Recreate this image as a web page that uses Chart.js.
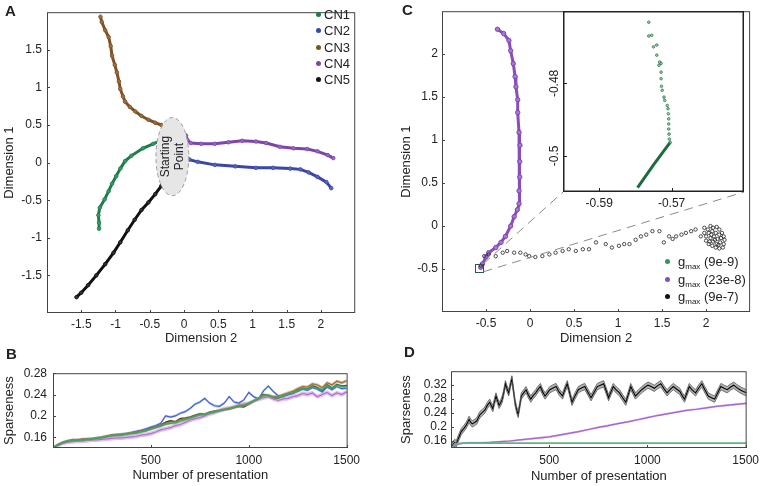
<!DOCTYPE html>
<html>
<head>
<meta charset="utf-8">
<title>Trajectories and sparseness</title>
<script src="https://cdn.jsdelivr.net/npm/chart.js@4.4.1/dist/chart.umd.min.js"></script>
<style>
  html, body { margin: 0; padding: 0; background: #fff; }
  #fig { position: relative; width: 767px; height: 486px; overflow: hidden;
         font-family: 'Liberation Sans', Arial, Helvetica, sans-serif; color: #222; }
  #fig canvas { position: absolute; }
  .panel { position: absolute; font-weight: bold; font-size: 15px; }
  .leg { position: absolute; font-size: 13px; line-height: 16.3px; white-space: nowrap; }
  .leg .dot { display: inline-block; width: 5px; height: 5px; border-radius: 50%;
              margin-right: 3px; vertical-align: middle; position: relative; top: -1px; }
  .leg.g { line-height: 17.5px; }
  .leg.g .dot { margin-right: 8px; }
  .leg sub { font-size: 8px; vertical-align: -3px; line-height: 0; }
</style>
</head>
<body>
<div id="fig">
  <canvas id="cA" width="360" height="350" style="left:0;top:0"></canvas>
  <canvas id="cB" width="365" height="126" style="left:0;top:360px"></canvas>
  <canvas id="cC" width="360" height="350" style="left:395px;top:0"></canvas>
  <canvas id="cCi" width="215" height="210" style="left:535px;top:5px"></canvas>
  <canvas id="cD" width="369" height="126" style="left:395px;top:360px"></canvas>

  <div class="panel" style="left:5px;top:2px">A</div>
  <div class="panel" style="left:6px;top:345px">B</div>
  <div class="panel" style="left:402px;top:1px">C</div>
  <div class="panel" style="left:404px;top:343px">D</div>

  <div class="leg" style="left:316px;top:7px">
    <div><span class="dot" style="background:#1f7d4a"></span>CN1</div>
    <div><span class="dot" style="background:#3a47a5"></span>CN2</div>
    <div><span class="dot" style="background:#7d5226"></span>CN3</div>
    <div><span class="dot" style="background:#7e44a8"></span>CN4</div>
    <div><span class="dot" style="background:#111"></span>CN5</div>
  </div>
  <div class="leg g" style="left:665px;top:253px">
    <div><span class="dot" style="background:#2e9a5a"></span>g<sub>max</sub> (9e-9)</div>
    <div><span class="dot" style="background:#8a4dbd"></span>g<sub>max</sub> (23e-8)</div>
    <div><span class="dot" style="background:#111"></span>g<sub>max</sub> (9e-7)</div>
  </div>
</div>

<script>
'use strict';

/* ---------- data: panel A (trajectories, [dim2, dim1]) ---------- */
const cn1 = [[-0.30,0.31],[-0.45,0.25],[-0.60,0.19],[-0.77,0.09],[-0.86,0.02],[-0.93,-0.08],
             [-0.99,-0.18],[-1.05,-0.28],[-1.10,-0.38],[-1.16,-0.49],[-1.23,-0.60],[-1.25,-0.70],
             [-1.24,-0.80],[-1.24,-0.88]];
const cn2 = [[0.03,0.09],[0.08,0.04],[0.20,0.01],[0.45,-0.03],[0.75,-0.05],[1.05,-0.07],[1.30,-0.07],
             [1.55,-0.08],[1.70,-0.09],[1.82,-0.13],[1.95,-0.19],[2.08,-0.26],[2.15,-0.34]];
const cn3 = [[-1.22,1.94],[-1.20,1.87],[-1.15,1.76],[-1.10,1.67],[-1.07,1.55],[-1.05,1.42],[-1.01,1.30],
             [-0.98,1.20],[-0.95,1.08],[-0.93,0.98],[-0.89,0.88],[-0.86,0.81],[-0.79,0.74],[-0.71,0.68],
             [-0.62,0.62],[-0.52,0.57],[-0.42,0.53],[-0.33,0.50]];
const cn4 = [[0.03,0.36],[0.05,0.30],[0.10,0.26],[0.25,0.25],[0.45,0.25],[0.65,0.27],[0.85,0.29],
             [1.05,0.28],[1.20,0.26],[1.40,0.21],[1.60,0.19],[1.80,0.18],[1.95,0.15],[2.10,0.10],[2.18,0.06]];
const cn5 = [[-0.33,-0.31],[-0.42,-0.42],[-0.52,-0.53],[-0.62,-0.63],[-0.72,-0.76],[-0.82,-0.90],
             [-0.93,-1.06],[-1.03,-1.20],[-1.15,-1.35],[-1.28,-1.50],[-1.40,-1.63],[-1.50,-1.73],[-1.57,-1.79]];
const startCenter = [-0.17, 0.08];
const startRadius = [0.24, 0.52];
const dimATicksX = [-1.5, -1, -0.5, 0, 0.5, 1, 1.5, 2];
const dimATicksY = [-1.5, -1, -0.5, 0, 0.5, 1, 1.5];

/* ---------- data: panel B (sparseness, five CNs) ---------- */
const presB = [0,25,50,75,100,125,150,175,200,225,250,275,300,325,350,375,400,425,450,475,500,
               525,550,575,600,625,650,675,700,725,750,775,800,825,850,875,900,925,950,975,1000,
               1025,1050,1075,1100,1125,1150,1175,1200,1225,1250,1275,1300,1325,1350,1375,1400,
               1425,1450,1475,1500];
const bGreen  = [.140,.146,.150,.153,.154,.155,.155,.156,.157,.158,.160,.161,.163,.164,.164,.166,.167,.168,.170,.172,.175,
                 .178,.181,.184,.186,.187,.190,.193,.196,.199,.202,.203,.206,.208,.210,.212,.214,.216,.219,.220,.224,
                 .228,.233,.238,.239,.235,.234,.237,.241,.243,.247,.251,.250,.255,.252,.249,.257,.252,.258,.255,.256];
const bBlue   = [.140,.146,.150,.153,.155,.155,.156,.157,.157,.159,.160,.162,.164,.165,.166,.167,.169,.171,.173,.176,.179,
                 .182,.186,.200,.198,.200,.205,.208,.214,.222,.226,.233,.224,.219,.218,.224,.236,.226,.224,.230,.244,
                 .236,.232,.247,.256,.246,.238,.236,.240,.242,.246,.250,.248,.253,.250,.245,.254,.249,.255,.251,.252];
const bBrown  = [.140,.146,.150,.153,.155,.155,.156,.156,.157,.158,.160,.162,.163,.164,.165,.166,.168,.169,.171,.173,.176,
                 .179,.182,.186,.189,.189,.193,.195,.197,.200,.203,.203,.206,.208,.210,.212,.214,.216,.219,.219,.223,
                 .228,.233,.239,.238,.236,.236,.240,.243,.246,.251,.255,.254,.260,.258,.253,.262,.258,.265,.262,.266];
const bPurple = [.140,.145,.149,.151,.152,.153,.153,.154,.155,.155,.156,.157,.158,.159,.159,.160,.161,.162,.164,.165,.167,
                 .170,.174,.176,.178,.182,.184,.188,.192,.195,.197,.200,.204,.206,.210,.213,.214,.217,.220,.222,.223,
                 .228,.231,.234,.236,.232,.229,.232,.233,.236,.238,.242,.240,.243,.236,.240,.244,.238,.243,.240,.245];
const bBlack  = [.140,.146,.150,.153,.155,.155,.156,.156,.157,.159,.160,.162,.164,.165,.165,.167,.168,.170,.172,.174,.177,
                 .180,.183,.188,.191,.189,.195,.196,.198,.201,.204,.203,.207,.209,.210,.212,.213,.216,.218,.217,.222,
                 .227,.232,.240,.238,.234,.233,.238,.240,.243,.248,.252,.250,.256,.253,.248,.258,.252,.259,.256,.257];
const bBands  = { green: 0.0025, blue: 0.0025, brown: 0.003, purple: 0.004, black: 0.002 };
const sparseTicksB = [0.16, 0.2, 0.24, 0.28];
const presTicks = [500, 1000, 1500];

/* ---------- data: panel C (three gmax values) ---------- */
const cPurple = [[-0.37,2.29],[-0.30,2.24],[-0.24,2.16],[-0.22,2.04],[-0.19,1.89],[-0.17,1.74],[-0.16,1.62],
                 [-0.14,1.47],[-0.14,1.32],[-0.125,1.09],[-0.114,0.94],[-0.117,0.75],[-0.117,0.57],[-0.125,0.41],
                 [-0.125,0.26],[-0.144,0.19],[-0.18,0.11],[-0.22,0.00],[-0.28,-0.12],[-0.33,-0.19],[-0.39,-0.25],
                 [-0.47,-0.31],[-0.50,-0.36],[-0.54,-0.44],[-0.56,-0.48]];
const cBlack = [[-0.56,-0.46],[-0.52,-0.35],[-0.47,-0.33],[-0.39,-0.35],[-0.31,-0.31],[-0.26,-0.29],[-0.18,-0.31],
                [-0.11,-0.31],[-0.05,-0.33],[-0.01,-0.35],[0.06,-0.36],[0.14,-0.35],[0.22,-0.33],[0.29,-0.31],
                [0.37,-0.29],[0.44,-0.27],[0.52,-0.29],[0.60,-0.27],[0.67,-0.27],[0.75,-0.19],[0.86,-0.21],
                [0.93,-0.25],[1.01,-0.23],[1.07,-0.21],[1.13,-0.21],[1.20,-0.16],[1.26,-0.12],[1.32,-0.10],
                [1.39,-0.06],[1.47,-0.06],[1.52,-0.19],[1.58,-0.12],[1.62,-0.15],[1.66,-0.12],[1.72,-0.10],
                [1.77,-0.08],[1.83,-0.06],[1.88,-0.04],[1.94,-0.12],[1.98,-0.02],[2.02,-0.04],[2.05,0.00],
                [2.08,-0.02],[2.12,-0.01],[2.15,-0.04],[2.18,-0.08],[2.20,-0.12],[2.21,-0.16],[2.20,-0.21],
                [2.19,-0.25],[2.15,-0.26],[2.11,-0.25],[2.07,-0.23],[2.03,-0.21],[2.00,-0.17],[2.00,-0.12],
                [2.03,-0.08],[2.07,-0.06],[2.11,-0.08],[2.15,-0.10],[2.17,-0.14],[2.16,-0.19],[2.12,-0.21],
                [2.08,-0.18],[2.05,-0.14],[2.09,-0.12],[2.13,-0.15],[2.06,-0.10],[2.10,-0.16],[2.14,-0.22],
                [2.04,-0.18],[1.98,-0.08]];
const dimCTicks = [-0.5, 0, 0.5, 1, 1.5, 2];

/* inset (green, gmax 9e-9) */
const insetX = [-0.60, -0.55];
const insetY = [-0.51, -0.46];
const insetTicksX = [-0.59, -0.57];
const insetTicksY = [-0.5, -0.48];
const inDots = [[-0.5763,-0.4631],[-0.5763,-0.4669],[-0.5755,-0.4667],[-0.5750,-0.4699],[-0.5741,-0.4694],
                [-0.5741,-0.4722],[-0.5733,-0.4741],[-0.5729,-0.4745],[-0.5735,-0.4750],[-0.5729,-0.4769],
                [-0.5729,-0.4787],[-0.5728,-0.4808],[-0.5726,-0.4819],[-0.5721,-0.4838],[-0.5719,-0.4847],
                [-0.5712,-0.4861],[-0.5710,-0.4870],[-0.5709,-0.4884],[-0.5708,-0.4898],[-0.5708,-0.4912],
                [-0.5708,-0.4926],[-0.5707,-0.4940],[-0.5706,-0.4954],[-0.5704,-0.4963]];
const inTail = [[-0.5704,-0.4963],[-0.5750,-0.5025],[-0.5794,-0.5088]];

/* ---------- data: panel D (sparseness, three gmax values) ---------- */
const dBlackX = [0,10,19,27,35,44,52,64,76,84,92,100,108,120,132,140,148,160,173,185,197,205,213,221,229,237,245,
                 253,261,269,277,285,294,302,310,318,326,334,342,350,358,370,382,394,406,418,431,443,455,467,479,
                 491,503,519,535,551,568,580,592,604,616,632,648,664,681,697,713,729,745,761,777,790,802,814,826,
                 842,858,874,890,903,915,927,939,955,971,987,1003,1019,1035,1051,1068,1084,1100,1116,1132,1148,
                 1165,1177,1189,1201,1213,1229,1245,1261,1277,1293,1310,1326,1342,1358,1374,1390,1406,1422,1439,
                 1455,1471,1488,1505];
const dBlackY = [.138,.150,.156,.152,.164,.176,.187,.195,.204,.212,.222,.214,.209,.213,.218,.228,.236,.242,.249,.262,
                 .271,.262,.253,.272,.289,.275,.262,.270,.280,.300,.324,.310,.298,.320,.338,.305,.271,.250,.236,.262,
                 .289,.298,.307,.292,.280,.290,.298,.308,.316,.300,.289,.298,.307,.312,.316,.300,.289,.308,.324,.298,
                 .271,.290,.307,.312,.316,.300,.284,.300,.316,.320,.324,.304,.284,.300,.316,.306,.298,.284,.271,.294,
                 .316,.302,.289,.298,.307,.314,.320,.316,.311,.318,.324,.310,.298,.308,.316,.309,.302,.290,.280,.298,
                 .316,.306,.298,.312,.324,.306,.289,.284,.280,.298,.316,.311,.307,.314,.320,.313,.307,.302,.298];
const dPurpleX = [0,30,60,100,150,200,250,300,350,400,450,500,550,600,650,700,750,800,850,900,950,1000,
                  1050,1100,1150,1200,1250,1300,1350,1400,1450,1505];
const dPurpleY = [.138,.150,.154,.155,.155,.156,.158,.160,.163,.166,.169,.172,.177,.182,.187,.193,.199,.204,
                  .210,.215,.221,.227,.233,.238,.243,.248,.251,.255,.259,.262,.265,.268];
const dGreenX = [0, 20, 60, 1505];
const dGreenY = [.138, .152, .154, .154];
const dBands = { black: 0.009, purple: 0.003 };
const sparseTicksD = [0.16, 0.2, 0.24, 0.28, 0.32];

/* ---------- helpers ---------- */
const FONT = "'Liberation Sans', Arial, Helvetica, sans-serif";
Chart.defaults.font.family = FONT;
Chart.defaults.color = '#222';

const xy = arr => arr.map(([x, y]) => ({ x, y }));
const pts = (xs, ys, d = 0) => xs.map((x, i) => ({ x, y: ys[i] + d }));

function axis(min, max, ticks, title, o) {
  return {
    type: 'linear', min, max,
    afterBuildTicks: s => { s.ticks = ticks.map(v => ({ value: v })); },
    afterFit: s => { if (s.isHorizontal()) s.height = o.size; else s.width = o.size; },
    grid: { display: false, drawTicks: false },
    border: { display: false },
    ticks: { display: o.labels !== false, padding: o.pad, color: '#222', font: { size: 12 },
             maxRotation: 0, autoSkip: false, callback: v => String(v) },
    title: { display: !!title, text: title, color: '#222', font: { size: 13 }, padding: o.tpad || 0 },
  };
}

// box round the plot area + short inward ticks (matlab look)
const frame = {
  id: 'frame',
  afterDatasetsDraw(chart, args, o) {
    const { ctx, chartArea: a, scales } = chart;
    ctx.save();
    ctx.strokeStyle = o.color || '#444';
    ctx.lineWidth = o.width || 1;
    const h = (o.width || 1) / 2;
    ctx.strokeRect(a.left + h, a.top + h, a.right - a.left - 2 * h, a.bottom - a.top - 2 * h);
    ctx.lineWidth = 1;
    ctx.beginPath();
    scales.x.ticks.forEach(t => {
      const p = Math.round(scales.x.getPixelForValue(t.value)) + 0.5;
      ctx.moveTo(p, a.bottom); ctx.lineTo(p, a.bottom - (o.tick || 3));
    });
    scales.y.ticks.forEach(t => {
      const p = Math.round(scales.y.getPixelForValue(t.value)) + 0.5;
      ctx.moveTo(a.left, p); ctx.lineTo(a.left + (o.tick || 3), p);
    });
    ctx.stroke();
    ctx.restore();
  }
};

function baseOptions(pad, x, y, extra) {
  return {
    responsive: false, animation: false, events: [],
    layout: { padding: pad },
    plugins: Object.assign({ legend: { display: false }, tooltip: { enabled: false }, frame: {} }, extra || {}),
    scales: { x, y },
  };
}

function bandSets(xs, ys, w, line, band, edge, lw) {
  return [
    { data: pts(xs, ys, w), borderColor: edge || 'transparent', borderWidth: edge ? 0.8 : 0, pointRadius: 0, fill: false },
    { data: pts(xs, ys, -w), borderColor: edge || 'transparent', borderWidth: edge ? 0.8 : 0, pointRadius: 0,
      fill: '-1', backgroundColor: band },
    { data: pts(xs, ys), borderColor: line, borderWidth: lw || 1.2, pointRadius: 0, fill: false },
  ];
}

/* ---------- panel A ---------- */
const startEllipse = {
  id: 'startEllipse',
  afterDatasetsDraw(chart) {
    const { ctx, scales: { x, y } } = chart;
    const cx = x.getPixelForValue(startCenter[0]);
    const cy = y.getPixelForValue(startCenter[1]);
    const rx = Math.abs(x.getPixelForValue(startCenter[0] + startRadius[0]) - cx);
    const ry = Math.abs(y.getPixelForValue(startCenter[1] + startRadius[1]) - cy);
    ctx.save();
    ctx.beginPath();
    ctx.ellipse(cx, cy, rx, ry, 0, 0, Math.PI * 2);
    ctx.fillStyle = '#e6e6e6';
    ctx.fill();
    ctx.setLineDash([4, 3]);
    ctx.strokeStyle = '#9a9a9a';
    ctx.lineWidth = 1;
    ctx.stroke();
    ctx.setLineDash([]);
    ctx.translate(cx, cy);
    ctx.rotate(-Math.PI / 2);
    ctx.fillStyle = '#222';
    ctx.font = '12px ' + FONT;
    ctx.textAlign = 'center';
    ctx.textBaseline = 'middle';
    ctx.fillText('Starting', 0, -6.5);
    ctx.fillText('Point', 0, 7);
    ctx.restore();
  }
};

const traj = (data, color, fillc) => ({
  data: xy(data), showLine: true, borderColor: color, borderWidth: 3, tension: 0,
  pointRadius: 1.8, pointBorderWidth: 0.8, pointBorderColor: color, pointBackgroundColor: fillc,
});

new Chart(document.getElementById('cA'), {
  type: 'scatter',
  data: { datasets: [
    traj(cn3, '#7d5226', '#a07040'), traj(cn1, '#1f7d4a', '#3d9a66'), traj(cn2, '#3a47a5', '#5a66c0'),
    traj(cn4, '#7e44a8', '#9b66c4'), traj(cn5, '#111', '#333'),
  ] },
  options: baseOptions({ top: 4, right: 3, left: 0, bottom: 0 },
    axis(-2, 2.5, dimATicksX, 'Dimension 2', { size: 37, pad: 4, tpad: { top: 0, bottom: 4 } }),
    axis(-2, 2, dimATicksY, 'Dimension 1', { size: 47, pad: 5, tpad: { top: 2, bottom: 0 } })),
  plugins: [frame, startEllipse],
});

/* ---------- panel B ---------- */
new Chart(document.getElementById('cB'), {
  type: 'line',
  data: { datasets: [
    ...bandSets(presB, bGreen, bBands.green, '#2f9a55', 'rgba(80,180,110,0.45)'),
    ...bandSets(presB, bBrown, bBands.brown, '#8a5a2b', 'rgba(180,130,70,0.5)'),
    ...bandSets(presB, bBlue, bBands.blue, '#3355c0', 'rgba(90,120,220,0.4)'),
    ...bandSets(presB, bPurple, bBands.purple, '#9a4fc0', 'rgba(195,140,225,0.55)'),
    ...bandSets(presB, bBlack, bBands.black, '#000', 'rgba(0,0,0,0.2)', null, 1.3),
  ] },
  options: baseOptions({ top: 8, right: 3, left: 0, bottom: 0 },
    axis(0, 1505, presTicks, 'Number of presentation', { size: 38, pad: 5, tpad: { top: 0, bottom: 3 } }),
    axis(0.14, 0.28, sparseTicksB, 'Sparseness', { size: 53, pad: 6, tpad: { top: 2, bottom: 0 } })),
  plugins: [frame],
});

/* ---------- panel C inset (drawn first so the zoom lines can find it) ---------- */
const rotYLabels = {
  id: 'rotYLabels',
  afterDraw(chart) {
    const { ctx, chartArea: a, scales: { y } } = chart;
    ctx.save();
    ctx.font = '12px ' + FONT;
    ctx.fillStyle = '#222';
    ctx.textAlign = 'center';
    ctx.textBaseline = 'middle';
    y.ticks.forEach(t => {
      ctx.save();
      ctx.translate(a.left - 8, y.getPixelForValue(t.value));
      ctx.rotate(-Math.PI / 2);
      ctx.fillText(String(t.value), 0, 0);
      ctx.restore();
    });
    ctx.restore();
  }
};
const whiteArea = {
  id: 'whiteArea',
  beforeDraw(chart) {
    const { ctx, chartArea: a } = chart;
    ctx.save(); ctx.fillStyle = '#fff';
    ctx.fillRect(a.left, a.top, a.right - a.left, a.bottom - a.top);
    ctx.restore();
  }
};

const insetChart = new Chart(document.getElementById('cCi'), {
  type: 'scatter',
  data: { datasets: [
    { data: xy(inDots), pointRadius: 1.3, pointBorderWidth: 0.8, pointBorderColor: '#2e7d4f',
      pointBackgroundColor: 'rgba(90,170,120,0.6)' },
    { data: xy(inTail), showLine: true, borderColor: '#1e6b3c', borderWidth: 3, pointRadius: 0 },
  ] },
  options: baseOptions({ top: 6, right: 6, left: 0, bottom: 0 },
    axis(insetX[0], insetX[1], insetTicksX, '', { size: 23, pad: 4 }),
    axis(insetY[0], insetY[1], insetTicksY, '', { size: 28, pad: 4, labels: false }),
    { frame: { color: '#222', width: 1.5, tick: 4 } }),
  plugins: [whiteArea, frame, rotYLabels],
});

/* ---------- panel C main ---------- */
const zoomLines = {
  id: 'zoomLines',
  afterDatasetsDraw(chart) {
    const { ctx, scales: { x, y } } = chart;
    const cx = x.getPixelForValue((insetX[0] + insetX[1]) / 2);
    const cy = y.getPixelForValue((insetY[0] + insetY[1]) / 2);
    const s = 4;
    const inCanvas = insetChart.canvas, mainCanvas = chart.canvas;
    const dx = inCanvas.offsetLeft - mainCanvas.offsetLeft;
    const dy = inCanvas.offsetTop - mainCanvas.offsetTop;
    const ia = insetChart.chartArea;
    ctx.save();
    ctx.strokeStyle = '#2c5a3a';
    ctx.lineWidth = 1;
    ctx.strokeRect(Math.round(cx - s) + 0.5, Math.round(cy - s) + 0.5, 2 * s, 2 * s);
    ctx.strokeStyle = '#8a8a8a';
    ctx.setLineDash([9, 6]);
    ctx.beginPath();
    ctx.moveTo(cx + s, cy - s); ctx.lineTo(ia.left + dx, ia.bottom + dy);
    ctx.moveTo(cx + s, cy + s); ctx.lineTo(ia.right + dx, ia.bottom + dy);
    ctx.stroke();
    ctx.restore();
  }
};

new Chart(document.getElementById('cC'), {
  type: 'scatter',
  data: { datasets: [
    { data: xy(cBlack), pointRadius: 1.7, pointBorderWidth: 0.8, pointBorderColor: '#222',
      pointBackgroundColor: 'rgba(255,255,255,0)' },
    { data: xy(cPurple), showLine: true, borderColor: '#8a4dbd', borderWidth: 3, tension: 0,
      pointRadius: 2.2, pointBorderWidth: 0.9, pointBorderColor: '#7a3fae', pointBackgroundColor: '#a877d2' },
  ] },
  options: baseOptions({ top: 4, right: 3, left: 0, bottom: 0 },
    axis(-1, 2.5, dimCTicks, 'Dimension 2', { size: 38, pad: 4, tpad: { top: 0, bottom: 4 } }),
    axis(-1, 2.5, dimCTicks, 'Dimension 1', { size: 47, pad: 4, tpad: { top: 4, bottom: 0 } })),
  plugins: [frame, zoomLines],
});

/* ---------- panel D ---------- */
new Chart(document.getElementById('cD'), {
  type: 'line',
  data: { datasets: [
    { data: pts(dGreenX, dGreenY), borderColor: '#5cb87e', borderWidth: 1.6, pointRadius: 0, fill: false },
    ...bandSets(dPurpleX, dPurpleY, dBands.purple, '#8a3fb0', 'rgba(190,130,220,0.55)'),
    ...bandSets(dBlackX, dBlackY, dBands.black, '#000', 'rgba(0,0,0,0.3)', '#555', 1.1),
  ] },
  options: baseOptions({ top: 7, right: 3, left: 0, bottom: 0 },
    axis(0, 1505, presTicks, 'Number of presentation', { size: 38, pad: 5, tpad: { top: 0, bottom: 2 } }),
    axis(0.14, 0.36, sparseTicksD, 'Sparseness', { size: 56, pad: 4, tpad: { top: 4, bottom: 0 } })),
  plugins: [frame],
});
</script>
</body>
</html>
